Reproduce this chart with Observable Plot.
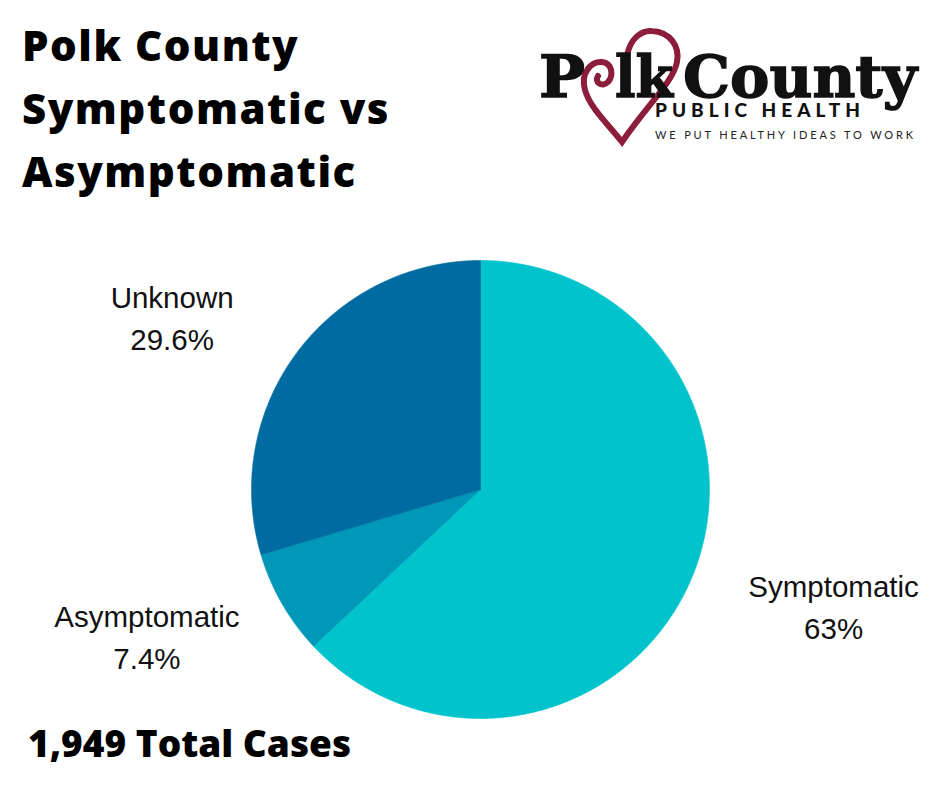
<!DOCTYPE html>
<html>
<head>
<meta charset="utf-8">
<script src="https://cdn.jsdelivr.net/npm/d3@7"></script>
<script src="https://cdn.jsdelivr.net/npm/@observablehq/plot@0.6"></script>
<style>
  body { margin: 0; background: #fff; }
  #page { position: relative; width: 940px; height: 788px; overflow: hidden; background: #fff; }
  #title { position: absolute; left: 22px; top: 13px; margin: 0; font-family: "Open Sans", sans-serif;
           font-weight: 800; font-size: 42px; letter-spacing: 1.5px; line-height: 63px; color: #000; }
  #logo { position: absolute; left: 530px; top: 20px; }
  #chart { position: absolute; left: 0; top: 215px; }
  #caption { position: absolute; left: 28px; top: 724px; margin: 0; font-family: "Open Sans", sans-serif;
             font-weight: 800; font-size: 37px; line-height: 37px; color: #000; }
</style>
</head>
<body>
<div id="page">
  <h1 id="title">Polk County<br>Symptomatic vs<br>Asymptomatic</h1>
  <svg id="logo" width="400" height="130"></svg>
  <div id="chart"></div>
  <p id="caption"></p>
</div>
<script>
// données du graphique
const categories = ["Symptomatic", "Asymptomatic", "Unknown"]
const shares = [63, 7.4, 29.6]        // en %
const colors = ["#00c3cb", "#0097b8", "#006ba1"]
const totalCases = 1949

// taille du svg et position du centre du camembert
const W = 940, H = 510, R = 229, cx = 480, cy = 274

// angles des parts (sens horaire depuis midi)
const arcs = d3.pie().sort(null).value(d => d)(shares)
const rows = categories.map((name, i) => ({
  name,
  share: shares[i],
  a0: arcs[i].startAngle,
  a1: arcs[i].endAngle,
  mid: (arcs[i].startAngle + arcs[i].endAngle) / 2
}))

// contour de chaque part : centre, arc, centre
const outline = rows.flatMap(d => {
  const n = Math.ceil((d.a1 - d.a0) / 0.004)
  const pts = [{name: d.name, x: 0, y: 0}]
  for (let k = 0; k <= n; k++) {
    const t = d.a0 + (d.a1 - d.a0) * k / n
    pts.push({name: d.name, x: Math.sin(t), y: Math.cos(t)})
  }
  pts.push({name: d.name, x: 0, y: 0})
  return pts
})

let chart = Plot.plot({
  width: W,
  height: H,
  margin: 0,
  x: {domain: [-cx / R, (W - cx) / R], axis: null},
  y: {domain: [-(H - cy) / R, cy / R], axis: null},
  color: {domain: categories, range: colors},
  style: {fontFamily: "Liberation Sans, Arial, sans-serif", background: "transparent"},
  marks: [
    Plot.line(outline, {x: "x", y: "y", fill: "name", stroke: "name", strokeWidth: 0.6, curve: "linear"}),
    // étiquettes autour du camembert
    Plot.text(rows, {
      x: d => 1.68 * Math.sin(d.mid),
      y: d => 1.27 * Math.cos(d.mid),
      text: d => `${d.name}\n${d.share}%`,
      fontSize: 29.5,
      lineHeight: 1.42,
      fill: "#111"
    })
  ]
})
d3.select('#chart').append(() => chart)

d3.select('#caption').text(`${d3.format(",")(totalCases)} Total Cases`)

// logo Polk County Public Health
const logo = d3.select('#logo')
logo.append("path")
  .attr("d", "M97,36 C100,18 112,10 122,11 C140,12 150,26 147,42 C143,62 118,84 92,122 C78,104 60,88 55,70 C50,52 62,41 72,42 C82,43 84,55 78,62 C72,68 64,62 68,56")
  .attr("fill", "none").attr("stroke", "#8c1d3b").attr("stroke-width", 6).attr("stroke-linecap", "round")
;[["P", 9, 46], ["lk", 85, 58], ["County", 153, 234]].forEach(([t, x, len]) => {
  logo.append("text").text(t)
    .attr("x", x).attr("y", 77)
    .attr("textLength", len).attr("lengthAdjust", "spacingAndGlyphs")
    .style("font-family", "DejaVu Serif").style("font-weight", 700).style("font-size", "58px")
    .attr("fill", "#111").attr("stroke", "#111").attr("stroke-width", 1.4)
})
logo.append("text").text("PUBLIC HEALTH")
  .attr("x", 125).attr("y", 97).attr("textLength", 205).attr("lengthAdjust", "spacing")
  .style("font-family", "Lato, sans-serif").style("font-weight", 900).style("font-size", "19px").attr("fill", "#111")
logo.append("text").text("WE PUT HEALTHY IDEAS TO WORK")
  .attr("x", 125).attr("y", 119).attr("textLength", 258).attr("lengthAdjust", "spacing")
  .style("font-family", "Lato, sans-serif").style("font-weight", 400).style("font-size", "11px").attr("fill", "#222")
</script>
</body>
</html>
